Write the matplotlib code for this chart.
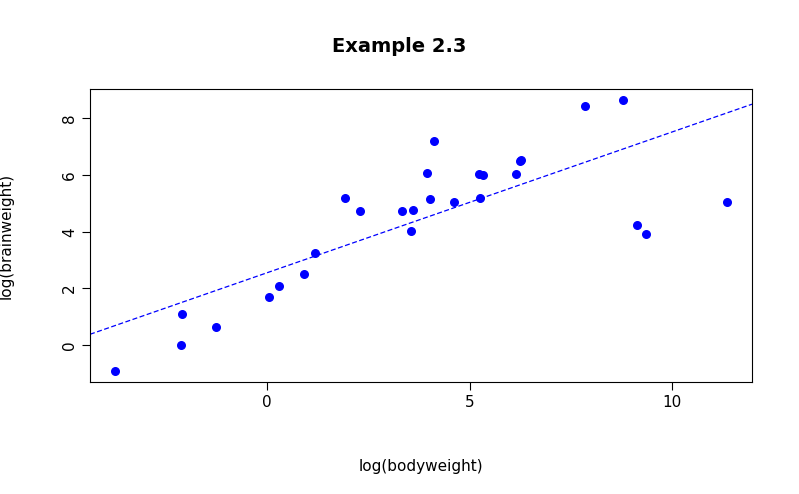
import numpy as np
import matplotlib
matplotlib.use("Agg")
import matplotlib.pyplot as plt

# log(body), log(brain)
log_body = [0.300, 6.142, 3.593, 3.320, 0.039, 9.367, 7.843, 5.232, 6.256, 2.303,
            1.194, 6.271, 5.333, 4.127, 8.803, 9.148, 1.917, 3.555, -2.120, -3.772,
            0.916, 4.016, 4.605, 3.954, -1.273, 11.374, -2.104, 5.257]
log_brain = [2.092, 6.047, 4.783, 4.745, 1.705, 3.912, 8.434, 6.038, 6.485, 4.745,
             3.243, 6.522, 6.006, 7.185, 8.650, 4.248, 5.187, 4.025, 0.000, -0.916,
             2.493, 5.165, 5.056, 6.087, 0.642, 5.040, 1.099, 5.193]

x = np.array(log_body)
y = np.array(log_brain)
slope, intercept = np.polyfit(x, y, 1)

fig = plt.figure(figsize=(7.99, 4.94), dpi=100)
ax = fig.add_axes([90 / 799, 1 - 382 / 494, (752 - 90) / 799, (382 - 89) / 494])
ax.scatter(x, y, color="blue", s=30, zorder=3)

pad_x = 0.04 * (x.max() - x.min())
pad_y = 0.04 * (y.max() - y.min())
ax.set_xlim(x.min() - pad_x, x.max() + pad_x)
ax.set_ylim(y.min() - pad_y, y.max() + pad_y)
xs = np.array(ax.get_xlim())
ax.plot(xs, intercept + slope * xs, color="blue", linestyle="--", linewidth=0.9, dashes=(4, 2))

ax.set_xticks([0, 5, 10])
ax.set_yticks([0, 2, 4, 6, 8])
ax.tick_params(direction="out", length=6, labelsize=11)
for lbl in ax.get_yticklabels():
    lbl.set_rotation(90)
    lbl.set_va("center")
ax.set_xlabel("log(bodyweight)", fontsize=11, labelpad=35)
ax.set_ylabel("log(brainweight)", fontsize=11, labelpad=35)
fig.suptitle("Example 2.3", fontsize=14, fontweight="bold", y=0.925)

fig.savefig("out.png", dpi=100)
